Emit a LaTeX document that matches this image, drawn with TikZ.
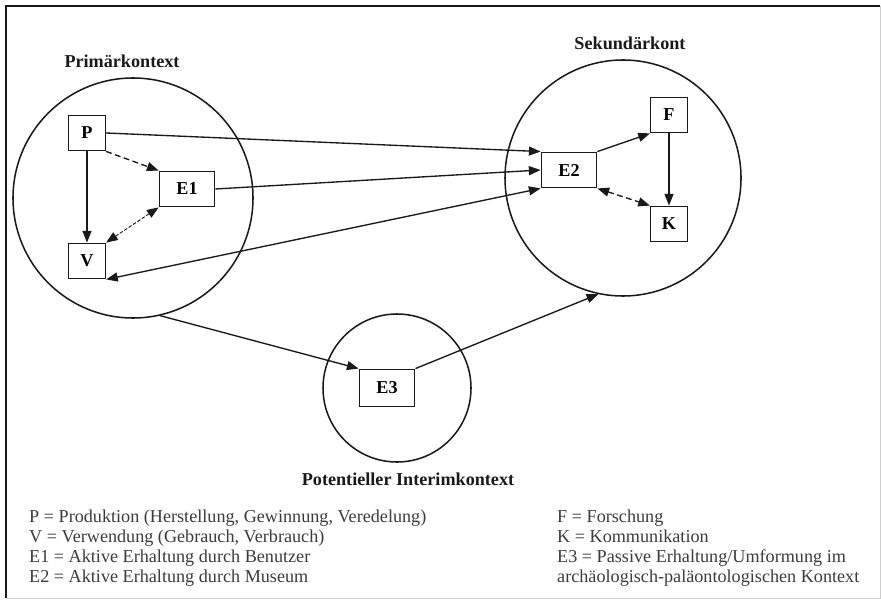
\documentclass[tikz,border=0pt]{standalone}
\usepackage{fontspec}
\setmainfont{Liberation Serif}
\usetikzlibrary{arrows.meta,positioning,calc}
\definecolor{ink}{RGB}{25,25,25}
\definecolor{rim}{RGB}{205,205,205}
\tikzset{
  ctx/.style={circle,draw=ink,line width=1.3pt,inner sep=0pt,minimum size=#1},
  lbl/.style={font=\fontsize{15.5}{18}\selectfont\bfseries,text=ink,inner sep=0pt},
  box/.style={draw=ink,line width=1.3pt,fill=white,font=\fontsize{15.5}{18}\selectfont\bfseries,
    minimum width=1.1cm,minimum height=1.06cm,inner sep=0pt},
  wbox/.style={box,minimum width=1.66cm},
  flow/.style={-{Triangle[length=3.5mm,width=2.7mm]},line width=1.15pt,draw=ink},
  both/.style={flow,{Triangle[length=3.5mm,width=2.7mm]}-{Triangle[length=3.5mm,width=2.7mm]}},
  dashln/.style={dash pattern=on 5pt off 3pt},
  fine/.style={line width=0.8pt,dash pattern=on 3pt off 1.5pt},
  leg/.style={font=\fontsize{15.5}{18}\selectfont,text=ink!85,inner sep=0pt,anchor=base west},
}

\begin{document}
\begin{tikzpicture}[x=0.03cm,y=-0.03cm]
  \useasboundingbox (0,0) rectangle (881,600);
  % frame
  \draw[rim,line width=0.8pt] (880,6) -- (880,598) -- (6,598);
  \draw[ink,line width=2pt] (6,598) -- (6,6) -- (880,6);

  % contexts
  \node[ctx=7.2cm] (prim) at (133,198) {};
  \node[ctx=7.08cm] (sek) at (623,178) {};
  \node[ctx=4.44cm] (int) at (397,388) {};
  \node[lbl] (tprim) at (122,61) {Primärkontext};
  \node[lbl] (tsek) at (630,43) {Sekundärkont};
  \node[lbl] (tint) at (408,479) {Potentieller Interimkontext};

  % boxes
  \node[box] (P) at (87,133) {P};
  \node[wbox] (E1) at (187,189) {E1};
  \node[box] (V) at (87,261) {V};
  \node[wbox] (E2) at (569,170) {E2};
  \node[box] (F) at (669,115) {F};
  \node[box] (K) at (669,224) {K};
  \node[wbox,minimum height=1.12cm] (E3) at (387,388) {E3};

  % primary context
  \draw[flow] (P) -- (V);
  \draw[flow,dashln] (P.south east) -- (E1.north west);
  \draw[both,fine] (E1.south west) -- (V.north east);
  % to the museum
  \draw[flow] (P.east) -- (E2.north west);
  \draw[flow] (E1.east) -- (E2.west);
  \draw[both] (V.south east) -- (E2.south west);
  % secondary context
  \draw[flow] (E2.north east) -- (F.south west);
  \draw[flow] (F) -- (K);
  \draw[both,dashln] (E2.south east) -- (K.north west);
  % interim
  \draw[flow] (prim.-77) -- (E3.north west);
  \draw[flow] (E3.north east) -- (sek.-102);

  % legend
  \foreach \t [count=\i] in {{P = Produktion (Herstellung, Gewinnung, Veredelung)},
      {V = Verwendung (Gebrauch, Verbrauch)},
      {E1 = Aktive Erhaltung durch Benutzer},
      {E2 = Aktive Erhaltung durch Museum}}
    \node[leg] (l\i) at (29,{522+20.3*(\i-1)}) {\t};
  \foreach \t [count=\i] in {{F = Forschung},{K = Kommunikation},
      {E3 = Passive Erhaltung/Umformung im},
      {archäologisch-paläontologischen Kontext}}
    \node[leg] (r\i) at (557,{522+20.3*(\i-1)}) {\t};
\end{tikzpicture}
\end{document}
